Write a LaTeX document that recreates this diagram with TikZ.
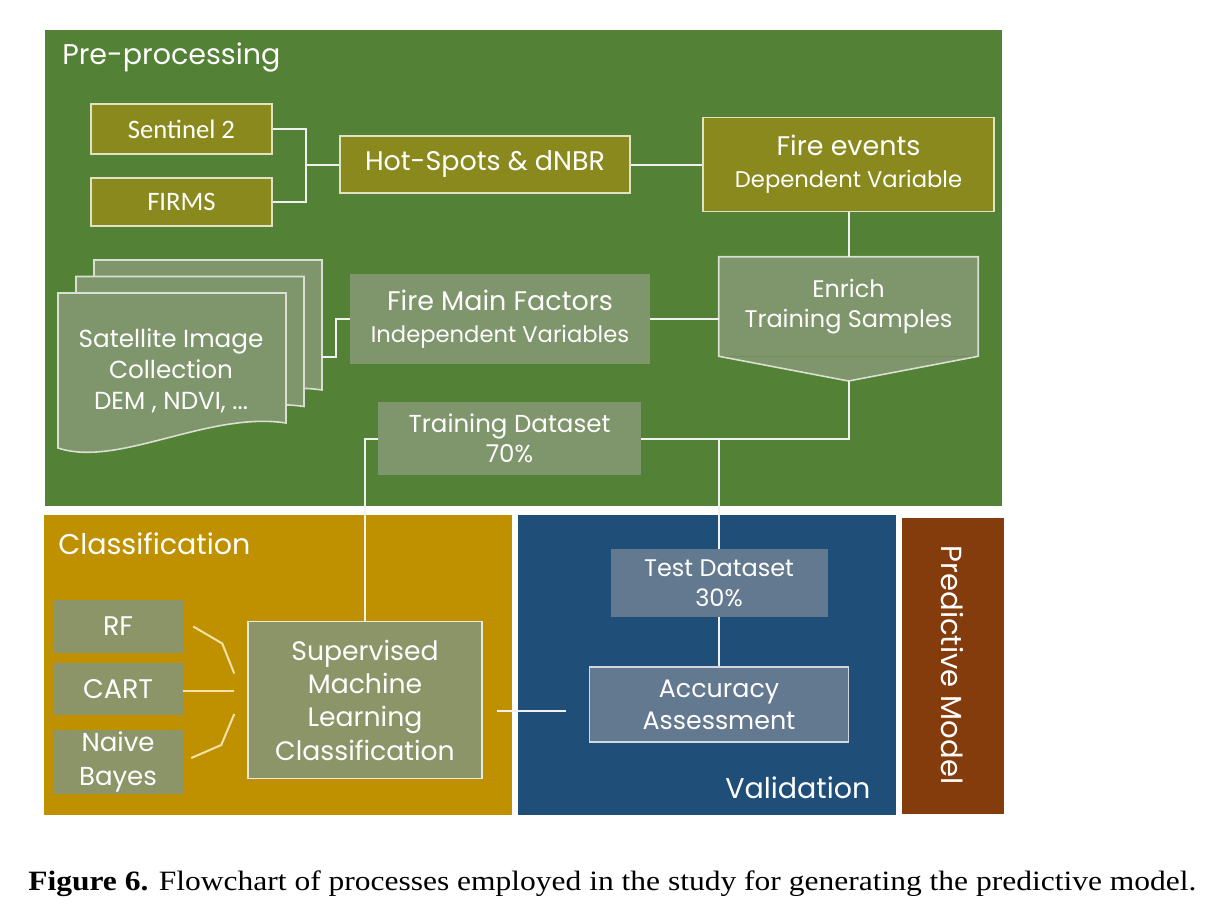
\documentclass[tikz,border=0pt]{standalone}
\usepackage{fontspec}
\setmainfont{Poppins}
\newfontfamily\calfont{Carlito}
\newfontfamily\capfont[FakeStretch=1.125]{Liberation Serif}
\newcommand{\subtxt}{\fontsize{17}{20}\selectfont}

\definecolor{preGreen}{HTML}{538135}
\definecolor{oliveBox}{HTML}{8A891D}
\definecolor{sageBox}{HTML}{7F956B}
\definecolor{goldPanel}{HTML}{BF9000}
\definecolor{khakiBox}{HTML}{8C9568}
\definecolor{navyPanel}{HTML}{1F4E79}
\definecolor{slateBox}{HTML}{62798F}
\definecolor{rustPanel}{HTML}{843C0C}
\definecolor{paleLine}{HTML}{F3E3A6}

\begin{document}
\begin{tikzpicture}[x=0.75pt, y=-0.75pt,
  every node/.style={text=white, align=center, inner sep=0pt},
  wh/.style 2 args={minimum width=#1*0.75pt, minimum height=#2*0.75pt},
  rim/.style={draw=#1, line width=1.2pt},
  obox/.style={fill=oliveBox, rim=white!75!oliveBox},
  sbox/.style={fill=sageBox},
  kbox/.style={fill=khakiBox},
  slbox/.style={fill=slateBox},
  sheet/.style={fill=sageBox, rim=white!70!sageBox},
  link/.style={draw=gray!12, line width=1.5pt},
  clink/.style={draw=paleLine, line width=1.5pt},
  title/.style={font=\fontsize{21.4}{26}\selectfont, anchor=base west},
  fbig/.style={font=\fontsize{20.2}{24}\selectfont},
  calbox/.style={font=\calfont\fontsize{20}{24}\selectfont}]
\useasboundingbox[fill=white] (0,0) rectangle (1219,913);

% panels
\fill[preGreen] (45,30) rectangle (1002,506);
\fill[goldPanel] (44,515) rectangle (512,815);
\fill[navyPanel] (518,515) rectangle (896,815);
\fill[rustPanel] (902,518) rectangle (1004,814);

\node[title] (pretitle) at (62,65) {Pre-processing};
\node[title] (cltitle) at (58,554) {Classification};
\node[title] (valtitle) at (725,798) {Validation};
\node[font=\fontsize{21.8}{26}\selectfont, rotate=-90] (predtitle) at (952,665) {Predictive Model};

% pre-processing
\node[obox, calbox, wh={181}{50}] (sen) at (181.5,129) {Sentinel 2};
\node[obox, calbox, wh={181}{48}] (firms) at (181.5,202) {FIRMS};
\node[obox, fbig, wh={290}{57}] (hot) at (485,164.5) {Hot-Spots \& dNBR};
\node[obox, fbig, wh={291}{94}] (fire) at (848.5,164.5) {Fire events\\{\subtxt Dependent Variable}};

\node[sbox, wh={259}{99}, font=\fontsize{18}{23}\selectfont] (enrich) at (848.5,306.5) {Enrich\\Training Samples};
\coordinate (tip) at (848.5,381);
\fill[sageBox] (enrich.south west) -- (tip) -- (enrich.south east) -- cycle;
\draw[rim=white!70!sageBox] (enrich.north west) -- (enrich.north east) -- (enrich.south east) -- (tip) -- (enrich.south west) -- cycle;

\foreach \sx/\sy in {94/260, 76/276.5, 58/293}
  \draw[sheet] (\sx,\sy) -- (\sx+228,\sy) -- (\sx+228,\sy+130)
    .. controls (\sx+150,\sy+118) and (\sx+60,\sy+175) .. (\sx,\sy+155) -- cycle;
\node[font=\fontsize{18.5}{23.5}\selectfont] (sat) at (171,371) {Satellite Image\\Collection\\DEM , NDVI, ...};
\coordinate (stackr) at (322,357);

\node[sbox, fbig, wh={300}{90}] (fmf) at (500,319) {Fire Main Factors\\{\subtxt Independent Variables}};
\node[sbox, wh={263}{73}, font=\fontsize{18.4}{22.5}\selectfont] (train) at (509.5,438.5) {Training Dataset\\70\%};

% classification
\node[kbox, fbig, wh={130}{53}] (rf) at (118,626.5) {RF};
\node[kbox, fbig, wh={130}{52}] (cart) at (118,689) {CART};
\node[kbox, wh={130}{64}, font=\fontsize{19.5}{25}\selectfont] (nb) at (118,762) {Naive\\Bayes};
\node[kbox, rim=white!80!khakiBox, wh={234}{157}, font=\fontsize{20}{25}\selectfont] (sup) at (365,700) {Supervised\\Machine\\Learning\\Classification};

% validation
\node[slbox, wh={217}{68}, font=\fontsize{18}{22.5}\selectfont] (test) at (719,583) {Test Dataset\\30\%};
\node[slbox, rim=white!70!slateBox, wh={259}{75}, font=\fontsize{19}{24}\selectfont] (acc) at (719,704.5) {Accuracy\\Assessment};

% connectors
\coordinate (j1) at (306,164.5);
\draw[link] (sen.east) -| (j1) |- (firms.east);
\draw[link] (j1) -- (hot.west);
\draw[link] (hot.east) -- (fire.west);
\draw[link] (fire.south) -- (enrich.north);
\draw[link] (fmf.east) -- (fmf.east -| enrich.west);
\draw[link] (stackr) -- ++(14,0) |- (fmf.west);
\draw[link] (train.east) -| (tip);
\draw[link] (train.east -| test.north) -- (test.north);
\draw[link] (train.west) -| (sup.north);
\draw[link] (test.south) -- (acc.north);
\draw[link, shorten <=11pt, shorten >=17pt] ([yshift=-8pt]sup.east) -- ([yshift=-8pt]sup.east -| acc.west);
\draw[clink] (rf.east) ++(10,0) -- ++(29,17) -- ++(12,30);
\draw[clink] (cart.east) ++(0,2) -- ++(51,0);
\draw[clink] (nb.east) ++(8,-4) -- ++(30,-13) -- ++(13,-31);

\node[text=black, anchor=base west, font=\capfont\fontsize{21}{25}\selectfont] (cap) at (28,890)
  {\textbf{Figure 6.} Flowchart of processes employed in the study for generating the predictive model.};
\end{tikzpicture}
\end{document}
